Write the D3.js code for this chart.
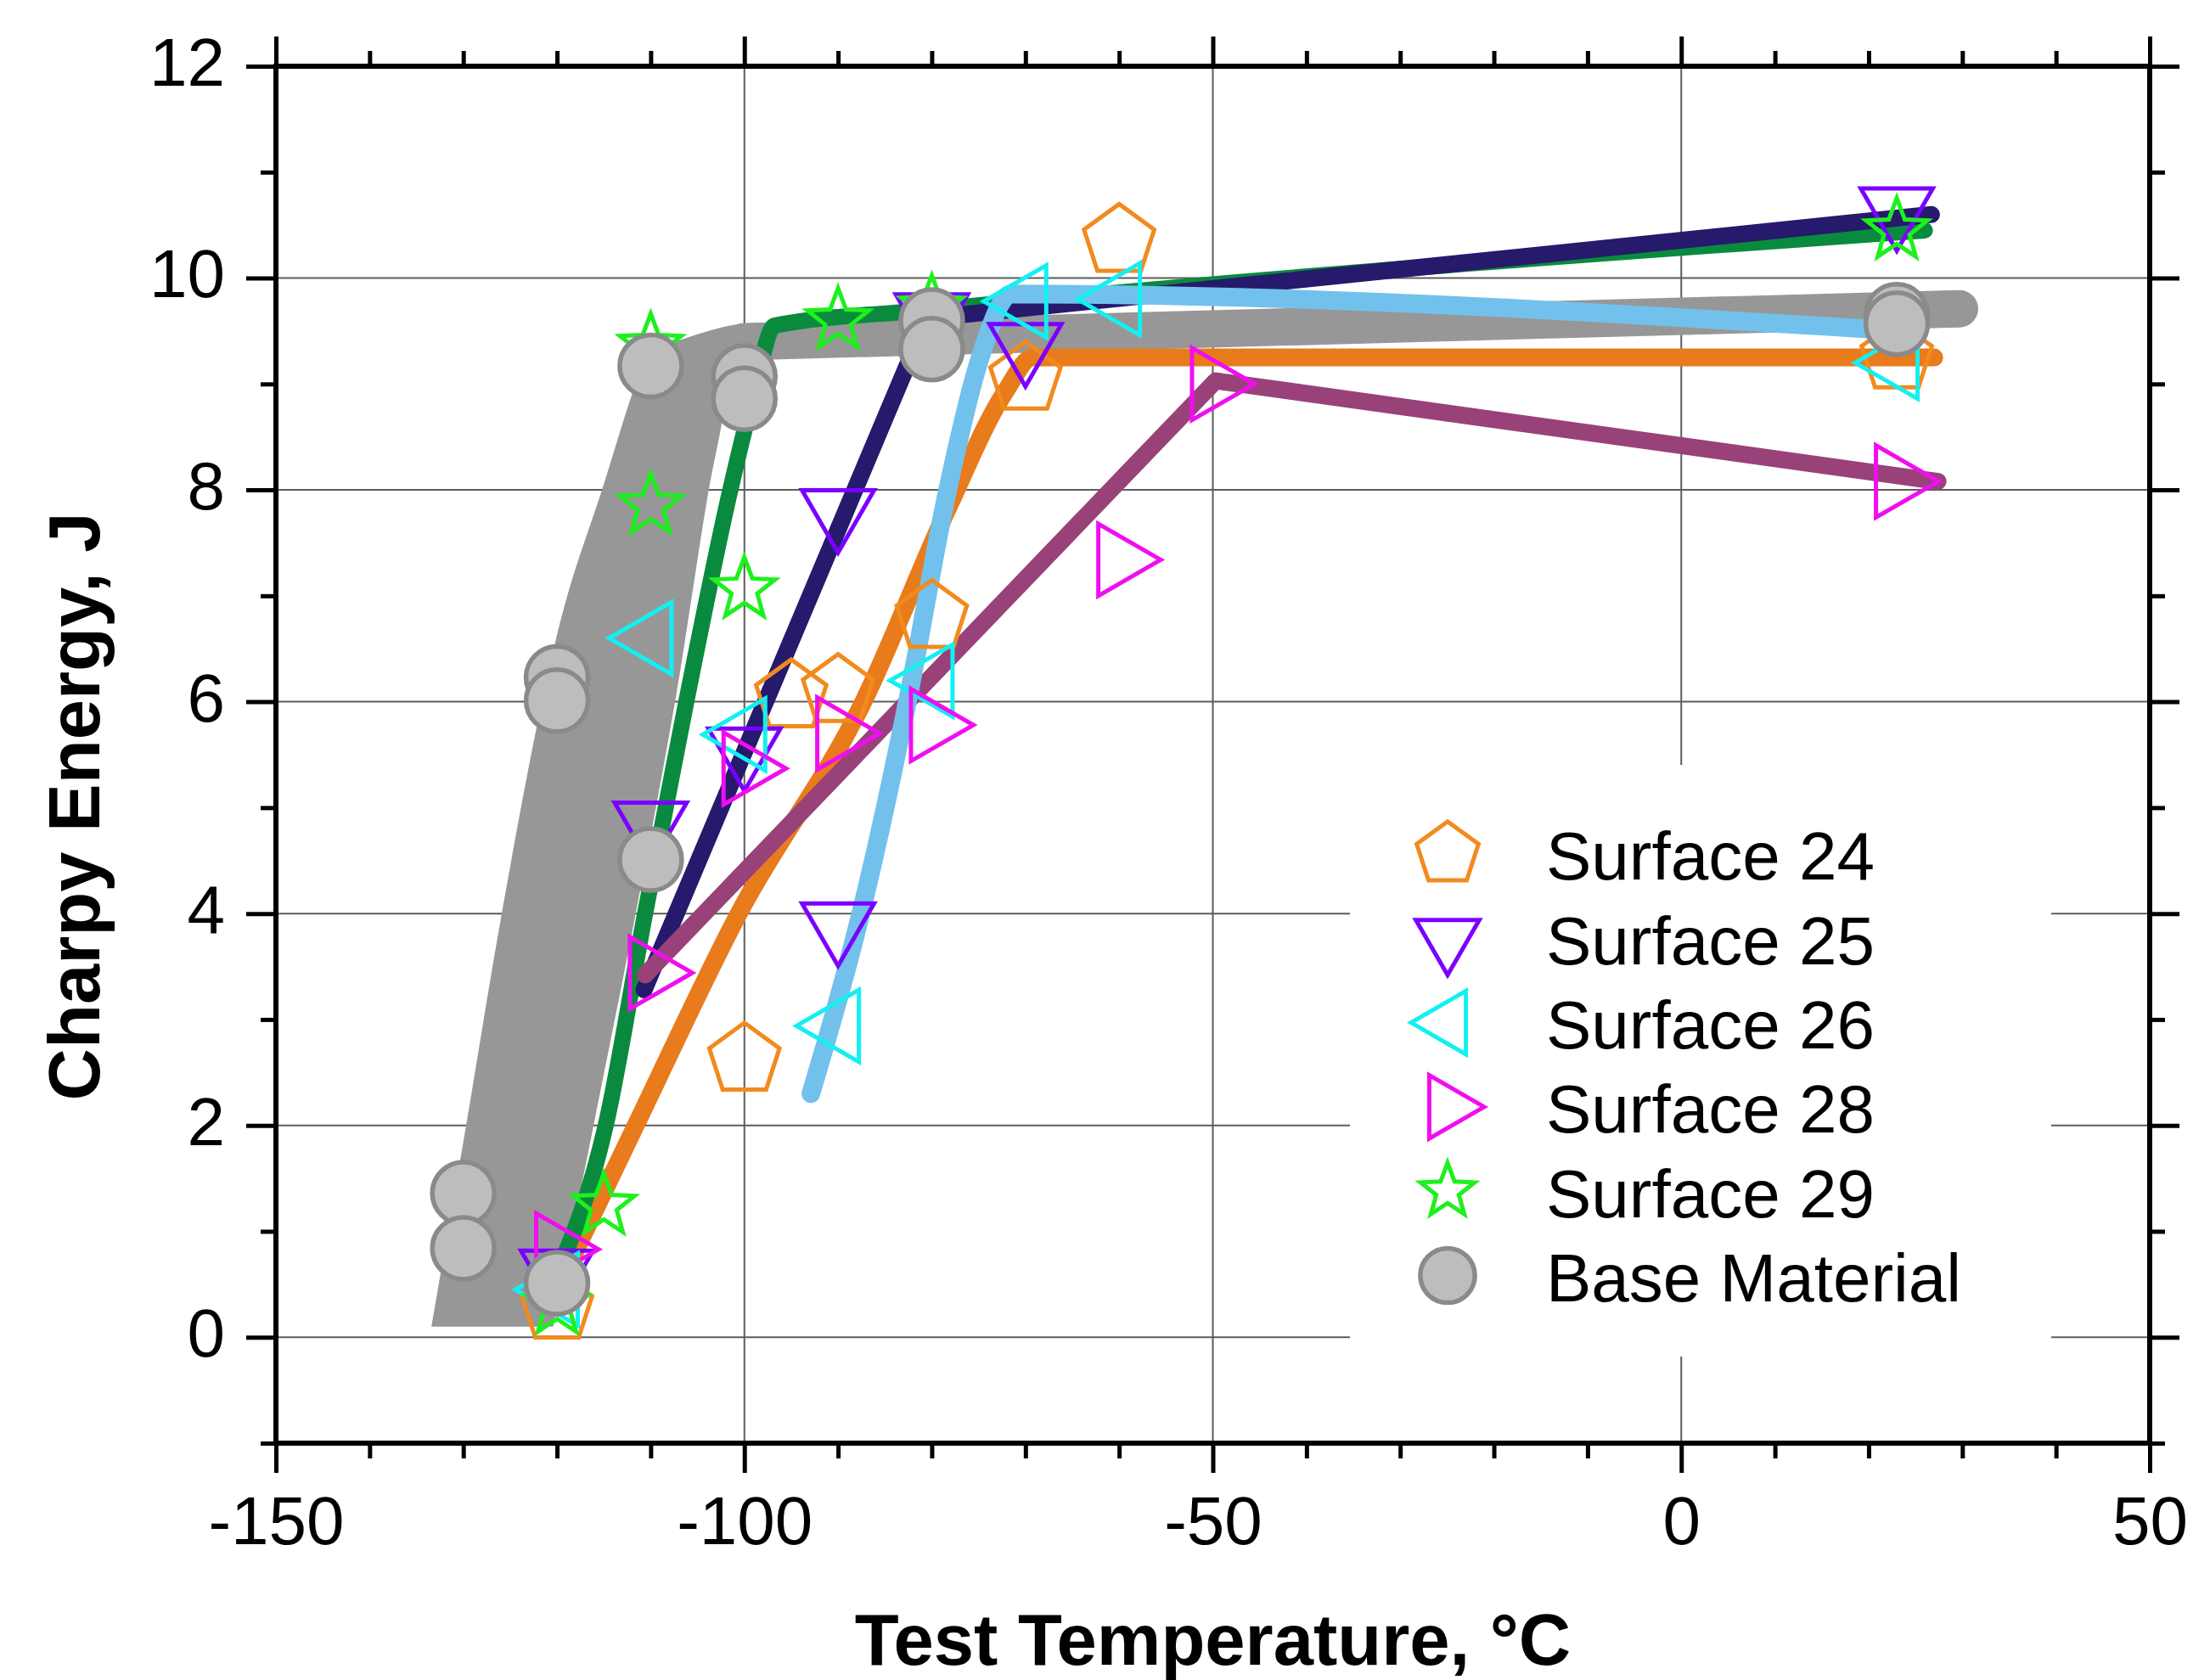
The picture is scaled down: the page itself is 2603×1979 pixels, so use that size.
<!DOCTYPE html>
<html>
<head>
<meta charset="utf-8">
<script src="https://cdnjs.cloudflare.com/ajax/libs/d3/7.8.5/d3.min.js"></script>
<style>
  body { margin: 0; background: #fff; }
  svg { display: block; font-family: "Liberation Sans", Arial, sans-serif; }
</style>
</head>
<body>
<svg id="chart" width="2603" height="1979"></svg>
<script>
// measured points (temperature in °C, Charpy energy in J)
var s24Temp = [-120, -100, -95, -90, -80, -70, -60, 23];
var s24Energy = [0.28, 2.62, 6.05, 6.1, 6.8, 9.05, 10.35, 9.25];

var s25Temp = [-120, -110, -100, -90, -90, -80, -70, 23];
var s25Energy = [0.62, 4.85, 5.55, 7.8, 3.9, 9.65, 9.37, 10.65];

var s26Temp = [-120, -110, -100, -90, -80, -70, -60, 23];
var s26Energy = [0.45, 6.6, 5.69, 2.94, 6.2, 9.78, 9.8, 9.2];

var s28Temp = [-120, -110, -100, -90, -80, -60, -50, 23];
var s28Energy = [0.83, 3.44, 5.37, 5.7, 5.78, 7.34, 9.0, 8.08];

var s29Temp = [-120, -115, -110, -110, -100, -90, -80, 23];
var s29Energy = [0.3, 1.24, 9.36, 7.85, 7.06, 9.6, 9.72, 10.45];

var baseTemp = [-130, -130, -120, -120, -120, -110, -110, -100, -100, -80, -80, 23, 23];
var baseEnergy = [1.36, 0.84, 6.23, 6.01, 0.51, 9.17, 4.51, 9.07, 8.86, 9.6, 9.33, 9.65, 9.57];

// fitted transition curves
var fit24Temp = [-120, -111.6, -100.6, -87.3, -78.2, -72.2, -69.2, 27];
var fit24Energy = [0.45, 2.0, 4.0, 6.0, 7.84, 8.92, 9.25, 9.25];

var fit25Temp = [-110.7, -80.5, -50, 26.7];
var fit25Energy = [3.28, 9.62, 9.9, 10.6];

var fit26Temp = [-92.9, -87.3, -82.6, -78.3, -75, -71.5, 23.5];
var fit26Energy = [2.3, 4.1, 6.0, 8.0, 9.2, 9.85, 9.5];

var fit28Temp = [-110.6, -49.7, 27.4];
var fit28Energy = [3.42, 9.03, 8.08];

var fit29Temp = [-120, -114.8, -110.6, -106.2, -101.5, -99, -96.8, -80, 26];
var fit29Energy = [0.6, 2.0, 4.0, 6.0, 8.0, 8.9, 9.55, 9.7, 10.45];

// base material scatter band: left/top edge and right edge, plus the upper shelf
var bandLeftTemp = [-133.4, -129.7, -125.9, -121.6, -118.9, -115.2, -112.0, -110.3, -106.7, -101.0, -97];
var bandLeftEnergy = [0.1, 2, 4, 6, 7, 8, 8.9, 9.3, 9.42, 9.56, 9.57];
var bandRightTemp = [-97, -101.5, -102.4, -103.8, -107.4, -111.6, -116.1, -120.4];
var bandRightEnergy = [9.23, 9.23, 8.64, 8, 6, 4, 2, 0.1];
var shelfTemp = [-100, 29.7];
var shelfEnergy = [9.4, 9.71];

// axes
var xMajor = [-150, -100, -50, 0, 50];
var xMinor = d3.range(-140, 50, 10).filter(function(d) { return d % 50 !== 0; });
var yMajor = [0, 2, 4, 6, 8, 10, 12];
var yMinor = [-1, 1, 3, 5, 7, 9, 11];
var xGrid = [-100, -50, 0];
var yGrid = [0, 2, 4, 6, 8, 10];

var legendNames = ["Surface 24", "Surface 25", "Surface 26", "Surface 28", "Surface 29", "Base Material"];

function zip(a, b) {
    return a.map(function(d, i) { return [d, b[i]]; });
}

var series = [
    { name: legendNames[0], shape: "pentagon", color: "#F28A1E", pts: zip(s24Temp, s24Energy) },
    { name: legendNames[1], shape: "down", color: "#7A00FF", pts: zip(s25Temp, s25Energy) },
    { name: legendNames[2], shape: "left", color: "#12F0F2", pts: zip(s26Temp, s26Energy) },
    { name: legendNames[3], shape: "right", color: "#F00EF0", pts: zip(s28Temp, s28Energy) },
    { name: legendNames[4], shape: "star", color: "#1EF01E", pts: zip(s29Temp, s29Energy) },
    { name: legendNames[5], shape: "circle", color: "#8A8A8A", pts: zip(baseTemp, baseEnergy) }
];

var fits = [
    { color: "#E87B1C", width: 21, curve: d3.curveMonotoneX, pts: zip(fit24Temp, fit24Energy) },
    { color: "#0A8A3F", width: 19, curve: d3.curveMonotoneX, pts: zip(fit29Temp, fit29Energy) },
    { color: "#251A6C", width: 20, curve: d3.curveLinear, pts: zip(fit25Temp, fit25Energy) },
    { color: "#984279", width: 20, curve: d3.curveLinear, pts: zip(fit28Temp, fit28Energy) },
    { color: "#72C1EC", width: 22, curve: d3.curveMonotoneX, pts: zip(fit26Temp, fit26Energy) }
];

var svg = d3.select("#chart");
svg.append("rect").attr("width", 2603).attr("height", 1979).attr("fill", "#fff");

var x = d3.scaleLinear().domain([-150, 50]).range([325, 2532]);
var y = d3.scaleLinear().domain([-1, 12]).range([1700, 78]);

// grid
var grid = svg.append("g").attr("stroke", "#5c5c5c").attr("stroke-width", 2);
grid.selectAll("line.gx").data(xGrid).enter().append("line")
    .attr("x1", function(d) { return x(d); }).attr("x2", function(d) { return x(d); })
    .attr("y1", y(12)).attr("y2", y(-1));
grid.selectAll("line.gy").data(yGrid).enter().append("line")
    .attr("x1", x(-150)).attr("x2", x(50))
    .attr("y1", function(d) { return y(d); }).attr("y2", function(d) { return y(d); });

// legend background hides the grid behind it
svg.append("rect").attr("x", 1590).attr("y", 901).attr("width", 826).attr("height", 697).attr("fill", "#fff");

// base material band
var edge = d3.line()
    .x(function(d) { return x(d[0]); })
    .y(function(d) { return y(d[1]); })
    .curve(d3.curveCatmullRom);
var bandD = edge(zip(bandLeftTemp, bandLeftEnergy)) +
    edge(zip(bandRightTemp, bandRightEnergy)).replace(/^M/, "L") + "Z";
svg.append("path").attr("d", bandD).attr("fill", "#979797");
svg.append("path")
    .attr("d", d3.line().x(function(d) { return x(d[0]); }).y(function(d) { return y(d[1]); })(zip(shelfTemp, shelfEnergy)))
    .attr("fill", "none").attr("stroke", "#979797").attr("stroke-width", 44).attr("stroke-linecap", "round");

// fitted lines
fits.forEach(function(f) {
    var line = d3.line()
        .x(function(d) { return x(d[0]); })
        .y(function(d) { return y(d[1]); })
        .curve(f.curve);
    svg.append("path")
        .attr("d", line(f.pts))
        .attr("fill", "none")
        .attr("stroke", f.color)
        .attr("stroke-width", f.width)
        .attr("stroke-linecap", "round")
        .attr("stroke-linejoin", "round");
});

// marker shapes
function polyPath(n, r, rot) {
    var p = d3.path();
    for (var i = 0; i < n; i++) {
        var a = rot + i * 2 * Math.PI / n;
        if (i === 0) p.moveTo(r * Math.sin(a), -r * Math.cos(a));
        else p.lineTo(r * Math.sin(a), -r * Math.cos(a));
    }
    p.closePath();
    return p.toString();
}

function starPath(r, inner) {
    var p = d3.path();
    for (var i = 0; i < 10; i++) {
        var a = i * Math.PI / 5;
        var rr = i % 2 === 0 ? r : r * inner;
        if (i === 0) p.moveTo(rr * Math.sin(a), -rr * Math.cos(a));
        else p.lineTo(rr * Math.sin(a), -rr * Math.cos(a));
    }
    p.closePath();
    return p.toString();
}

function drawMarker(g, shape, color, k) {
    if (shape === "circle") {
        g.append("circle").attr("r", 36.5 * k)
            .attr("fill", "#BDBDBD").attr("stroke", color).attr("stroke-width", 5.5);
        return;
    }
    var d;
    if (shape === "pentagon") d = polyPath(5, 43.5 * k, 0);
    else if (shape === "down") d = polyPath(3, 49 * k, Math.PI);
    else if (shape === "left") d = polyPath(3, 49 * k, -Math.PI / 2);
    else if (shape === "right") d = polyPath(3, 49 * k, Math.PI / 2);
    else d = starPath(38 * k, 0.42);
    g.append("path").attr("d", d)
        .attr("fill", "none").attr("stroke", color).attr("stroke-width", 5)
        .attr("stroke-linejoin", "miter");
}

series.forEach(function(s) {
    var g = svg.append("g");
    s.pts.forEach(function(p) {
        var m = g.append("g").attr("transform", "translate(" + x(p[0]) + "," + y(p[1]) + ")");
        drawMarker(m, s.shape, s.color, 1);
    });
});

// axes
function styleAxis(g) {
    g.select(".domain").remove();
    g.selectAll(".tick line").attr("stroke", "#000").attr("stroke-width", 5);
    g.attr("font-size", 80).attr("font-family", null);
}

svg.append("g").attr("transform", "translate(0," + y(-1) + ")")
    .call(d3.axisBottom(x).tickValues(xMajor).tickSize(35).tickPadding(27).tickFormat(String))
    .call(styleAxis);
svg.append("g").attr("transform", "translate(0," + y(-1) + ")")
    .call(d3.axisBottom(x).tickValues(xMinor).tickSize(18).tickFormat(""))
    .call(styleAxis);
svg.append("g").attr("transform", "translate(0," + y(12) + ")")
    .call(d3.axisTop(x).tickValues(xMajor).tickSize(35).tickFormat(""))
    .call(styleAxis);
svg.append("g").attr("transform", "translate(0," + y(12) + ")")
    .call(d3.axisTop(x).tickValues(xMinor).tickSize(18).tickFormat(""))
    .call(styleAxis);

var yAxisG = svg.append("g").attr("transform", "translate(" + x(-150) + ",0)")
    .call(d3.axisLeft(y).tickValues(yMajor).tickSize(35).tickPadding(25).tickFormat(String))
    .call(styleAxis);
yAxisG.selectAll(".tick text").attr("dy", "0.28em");
svg.append("g").attr("transform", "translate(" + x(-150) + ",0)")
    .call(d3.axisLeft(y).tickValues(yMinor).tickSize(18).tickFormat(""))
    .call(styleAxis);
svg.append("g").attr("transform", "translate(" + x(50) + ",0)")
    .call(d3.axisRight(y).tickValues(yMajor).tickSize(35).tickFormat(""))
    .call(styleAxis);
svg.append("g").attr("transform", "translate(" + x(50) + ",0)")
    .call(d3.axisRight(y).tickValues(yMinor).tickSize(18).tickFormat(""))
    .call(styleAxis);

// frame
svg.append("rect")
    .attr("x", x(-150)).attr("y", y(12))
    .attr("width", x(50) - x(-150)).attr("height", y(-1) - y(12))
    .attr("fill", "none").attr("stroke", "#000").attr("stroke-width", 6);

// axis titles
svg.append("text")
    .attr("x", (x(-150) + x(50)) / 2).attr("y", 1961)
    .attr("text-anchor", "middle").attr("font-size", 85).attr("font-weight", "bold")
    .text("Test Temperature, °C");
svg.append("text")
    .attr("transform", "translate(117,950) rotate(-90)")
    .attr("text-anchor", "middle").attr("font-size", 85).attr("font-weight", "bold")
    .text("Charpy Energy, J");

// legend
var legend = svg.append("g");
series.forEach(function(s, i) {
    var rowY = 1006 + i * 99.3;
    var m = legend.append("g").attr("transform", "translate(1705," + rowY + ")");
    drawMarker(m, s.shape, s.color, 0.88);
    legend.append("text")
        .attr("x", 1821).attr("y", rowY).attr("dy", "0.38em")
        .attr("font-size", 80)
        .text(s.name);
});
</script>
</body>
</html>
